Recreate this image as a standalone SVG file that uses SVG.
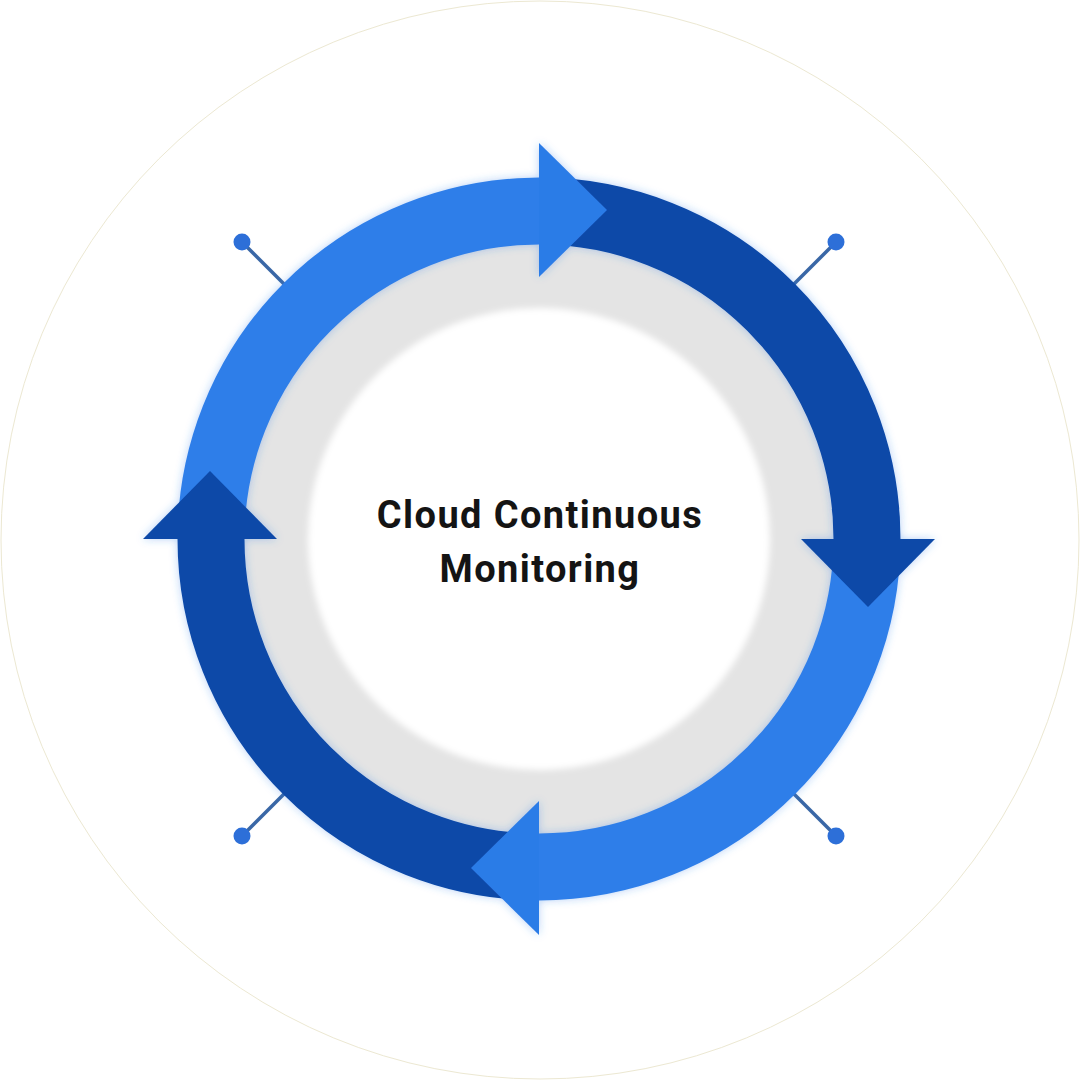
<svg xmlns="http://www.w3.org/2000/svg" width="1080" height="1080" viewBox="0 0 1080 1080">
  <defs>
    <style>
      .light { stroke: #2f7ee9; }
      .dark { stroke: #0e49a8; }
      .arc { fill: none; stroke-width: 67; stroke-linecap: butt; }
      .headL { fill: #2c7be7; }
      .headD { fill: #0e49a8; }
      .pinline { stroke: #3a67a6; stroke-width: 3.5; }
      .pindot { fill: #2d6fd8; }
      .title { font-family: Roboto, "Liberation Sans", Arial, sans-serif; font-weight: 700; font-size: 38px; letter-spacing: 1.4px; fill: #141414; text-anchor: middle; }
    </style>
    <filter id="glow" x="-20%" y="-20%" width="140%" height="140%">
      <feGaussianBlur in="SourceAlpha" stdDeviation="4" result="b"/>
      <feFlood flood-color="#2f7ee9" flood-opacity="0.35"/>
      <feComposite in2="b" operator="in" result="s"/>
      <feMerge><feMergeNode in="s"/><feMergeNode in="SourceGraphic"/></feMerge>
    </filter>
    <filter id="soft" x="-20%" y="-20%" width="140%" height="140%">
      <feGaussianBlur stdDeviation="3"/>
    </filter>
  </defs>
  <rect width="1080" height="1080" fill="#ffffff"/>
  <circle cx="540" cy="540" r="539" fill="#ffffff" stroke="#ece8d2" stroke-width="1"/>

  <g id="pins">
    <line class="pinline" x1="284" y1="284" x2="242" y2="242"/>
    <circle class="pindot" cx="242" cy="242" r="8.5"/>
    <line class="pinline" x1="794" y1="284" x2="836" y2="242"/>
    <circle class="pindot" cx="836" cy="242" r="8.5"/>
    <line class="pinline" x1="284" y1="794" x2="242" y2="836"/>
    <circle class="pindot" cx="242" cy="836" r="8.5"/>
    <line class="pinline" x1="794" y1="794" x2="836" y2="836"/>
    <circle class="pindot" cx="836" cy="836" r="8.5"/>
  </g>

  <g id="center-disc">
    <circle cx="539" cy="539" r="296" fill="#e4e4e4"/>
    <circle cx="539" cy="539" r="231" fill="#ffffff" filter="url(#soft)"/>
  </g>

  <g id="cycle" filter="url(#glow)">
    <g id="arc-top-left"><path class="arc light" d="M 211 539 A 328 328 0 0 1 539 211"/></g>
    <g id="arc-top-right"><path class="arc dark" d="M 539 211 A 328 328 0 0 1 867 539"/></g>
    <g id="arc-bottom-right"><path class="arc light" d="M 867 539 A 328 328 0 0 1 539 867"/></g>
    <g id="arc-bottom-left"><path class="arc dark" d="M 539 867 A 328 328 0 0 1 211 539"/></g>
    <g id="head-top"><polygon class="headL" points="539,143 607,210 539,277"/></g>
    <g id="head-right"><polygon class="headD" points="801,539 935,539 868,607"/></g>
    <g id="head-bottom"><polygon class="headL" points="539,801 539,935 471,868"/></g>
    <g id="head-left"><polygon class="headD" points="143,539 277,539 210,471"/></g>
  </g>

  <g id="label">
    <text class="title" x="540" y="528">Cloud Continuous</text>
    <text class="title" x="540" y="582">Monitoring</text>
  </g>
</svg>
